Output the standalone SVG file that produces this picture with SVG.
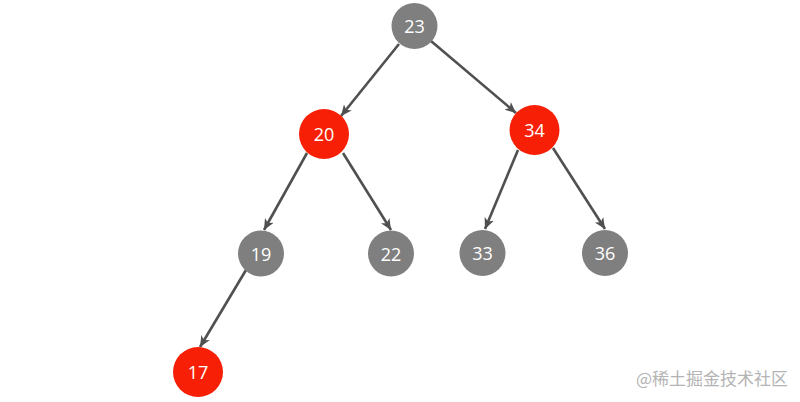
<svg xmlns="http://www.w3.org/2000/svg" width="800" height="402" viewBox="0 0 800 402">
<style>
.gray{fill:#7f7f7f}
.red{fill:#f71f06}
.lbl{font-family:"Open Sans","Liberation Sans",sans-serif;font-size:18px;fill:#fff;text-anchor:middle;dominant-baseline:central}
.edge{stroke:#505050;stroke-width:2.6;fill:none;marker-end:url(#arr)}
.wm{font-family:"Noto Sans CJK SC","Liberation Sans",sans-serif;font-size:17px;fill:#b4b4b4}
</style>
<defs>
<marker id="arr" markerUnits="userSpaceOnUse" markerWidth="12" markerHeight="12" viewBox="0 0 12 12" refX="11" refY="6" orient="auto">
<path d="M0,1 L11,6 L0,11 L3,6 Z" fill="#505050"/>
</marker>
</defs>
<rect width="800" height="402" fill="#fff"/>
<g id="edges">
<line class="edge" x1="399" y1="44" x2="341" y2="116"/>
<line class="edge" x1="431" y1="41" x2="516" y2="113"/>
<line class="edge" x1="307" y1="153" x2="264" y2="230"/>
<line class="edge" x1="343" y1="153" x2="391" y2="230"/>
<line class="edge" x1="518" y1="150" x2="485" y2="229"/>
<line class="edge" x1="553" y1="148" x2="605" y2="229"/>
<line class="edge" x1="246" y1="270" x2="200" y2="347"/>
</g>
<g id="n23"><circle class="gray" cx="414.5" cy="26" r="23"/><text class="lbl" x="414.5" y="26">23</text></g>
<g id="n20"><circle class="red" cx="324" cy="134" r="25"/><text class="lbl" x="324" y="134">20</text></g>
<g id="n34"><circle class="red" cx="534.5" cy="130" r="25"/><text class="lbl" x="534.5" y="130">34</text></g>
<g id="n19"><circle class="gray" cx="261" cy="253.5" r="23"/><text class="lbl" x="261" y="253.5">19</text></g>
<g id="n22"><circle class="gray" cx="391" cy="253.5" r="23"/><text class="lbl" x="391" y="253.5">22</text></g>
<g id="n33"><circle class="gray" cx="482.5" cy="253" r="23"/><text class="lbl" x="482.5" y="253">33</text></g>
<g id="n36"><circle class="gray" cx="605" cy="253" r="23"/><text class="lbl" x="605" y="253">36</text></g>
<g id="n17"><circle class="red" cx="198" cy="372" r="25"/><text class="lbl" x="198" y="372">17</text></g>
<text class="wm" x="636" y="385">@稀土掘金技术社区</text>
</svg>
